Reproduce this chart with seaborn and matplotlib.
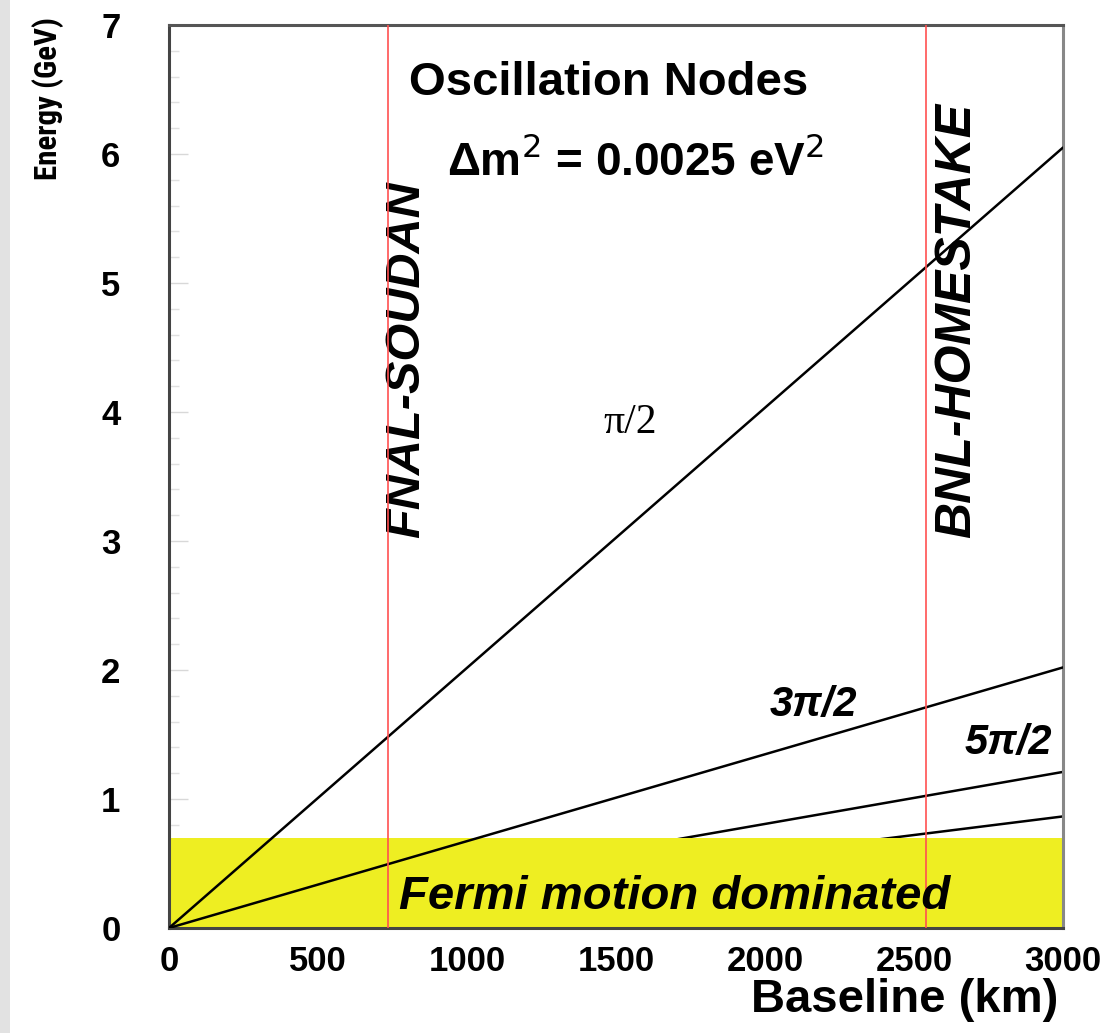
import matplotlib
matplotlib.use("Agg")
import matplotlib.pyplot as plt
import seaborn as sns
import pandas as pd
from matplotlib.ticker import MultipleLocator
from matplotlib.patches import Rectangle
from matplotlib import font_manager

# ---- data ----
baseline_km = [0, 3000]
node_labels = ["π/2", "3π/2", "5π/2", "7π/2"]
node_energy = {            # energy (GeV) at baseline 0 and 3000 km
    "π/2": [0.0, 6.05],
    "3π/2": [0.0, 2.02],
    "5π/2": [0.0, 1.21],
    "7π/2": [0.0, 0.865],
}
experiments = ["FNAL-SOUDAN", "BNL-HOMESTAKE"]
experiment_km = [735, 2540]
fermi_limit_gev = 0.7
x_ticks = [0, 500, 1000, 1500, 2000, 2500, 3000]
y_ticks = [0, 1, 2, 3, 4, 5, 6, 7]

sns.set_theme(style="white")
plt.rcParams["font.family"] = ["Liberation Sans", "DejaVu Sans"]
plt.rcParams["text.color"] = "black"
plt.rcParams["xtick.labelcolor"] = "black"
plt.rcParams["ytick.labelcolor"] = "black"

# pick a condensed bold face for the y label if one is installed
fonts = font_manager.fontManager.ttflist
cond_family, cond_stretch = "Liberation Sans", "normal"
for f in fonts:
    if f.name in ("Roboto Condensed", "Liberation Sans Narrow") and f.weight >= 600:
        cond_family, cond_stretch = f.name, "normal"
        break
else:
    for f in fonts:
        if f.name == "DejaVu Sans" and str(f.stretch) == "condensed" and f.weight >= 600:
            cond_family, cond_stretch = "DejaVu Sans", "condensed"
            break

fig = plt.figure(figsize=(11.08, 10.33), dpi=100)
ax = fig.add_axes([169 / 1108, 1 - 928 / 1033, (1063 - 169) / 1108, (928 - 25) / 1033])

# gray strip on left edge
fig.patches.append(Rectangle((0, 0), 10 / 1108, 1, transform=fig.transFigure,
                             facecolor="#e2e2e2", edgecolor="none", zorder=-1))

rows = []
for lab in node_labels:
    for x, e in zip(baseline_km, node_energy[lab]):
        rows.append({"baseline": x, "energy": e, "node": lab})
df = pd.DataFrame(rows)

# lower nodes drawn beneath the yellow band
for lab, z in zip(node_labels, [4, 4, 1, 1]):
    sub = df[df["node"] == lab]
    sns.lineplot(data=sub, x="baseline", y="energy", ax=ax, color="black",
                 linewidth=1.8, zorder=z, legend=False)

ax.axhspan(0, fermi_limit_gev, color="#eeee22", zorder=2, linewidth=0)

for xk in experiment_km:
    ax.axvline(xk, color="#ff5050", linewidth=1.2, zorder=5)

ax.set_xlim(0, 3000)
ax.set_ylim(0, 7)
ax.set_xticks(x_ticks)
ax.set_yticks(y_ticks)
ax.xaxis.set_minor_locator(MultipleLocator(100))
ax.yaxis.set_minor_locator(MultipleLocator(0.2))
ax.tick_params(which="major", direction="in", length=14, color="#d8d8d8", width=1,
               labelsize=25, pad=12)
ax.tick_params(which="minor", direction="in", length=7, color="#e0e0e0", width=1)
ax.tick_params(axis="x", which="both", bottom=True)
ax.tick_params(axis="y", which="both", left=True)
for lbl in ax.get_xticklabels() + ax.get_yticklabels():
    lbl.set_fontweight("bold")
ax.tick_params(axis="y", pad=35)

for side, col in [("left", "#444444"), ("bottom", "#444444"), ("top", "#555555"), ("right", "#888888")]:
    ax.spines[side].set_color(col)
    ax.spines[side].set_linewidth(2.2)

ax.set_xlabel("")
ax.set_ylabel("")
fig.text(1058 / 1108, 1 - 1012 / 1033, "Baseline (km)", ha="right", va="baseline",
         fontsize=34, fontweight="bold")

ylab = fig.text(48 / 1108, 1 - 17 / 1033, "Energy (GeV)", ha="center", va="top",
                rotation=90, fontsize=20, fontweight="bold",
                family=[cond_family, "Liberation Sans"], fontstretch=cond_stretch)
# scale the label so its length matches the reference (~163 px)
renderer = fig.canvas.get_renderer()
h = ylab.get_window_extent(renderer).height
ylab.set_fontsize(20 * 163 / h)

ax.text(609 / 1108, 1 - 95 / 1033, "Oscillation Nodes", transform=fig.transFigure,
        ha="center", va="baseline", fontsize=34, fontweight="bold")
ax.text(636 / 1108, 1 - 175 / 1033, "Δm$^2$ = 0.0025 eV$^2$", transform=fig.transFigure,
        ha="center", va="baseline", fontsize=33, fontweight="bold")

ax.text(407 / 1108, 1 - 538 / 1033, experiments[0], transform=fig.transFigure,
        ha="center", va="bottom", rotation=90, fontsize=35, fontweight="bold", style="italic")
ax.text(957 / 1108, 1 - 538 / 1033, experiments[1], transform=fig.transFigure,
        ha="center", va="bottom", rotation=90, fontsize=36, fontweight="bold", style="italic")

ax.text(630 / 1108, 1 - 423 / 1033, node_labels[0], transform=fig.transFigure,
        ha="center", va="center", fontsize=30, family=["Liberation Serif"])
ax.text(813 / 1108, 1 - 705 / 1033, node_labels[1], transform=fig.transFigure,
        ha="center", va="center", fontsize=30, style="italic", fontweight="bold")
ax.text(1008 / 1108, 1 - 743 / 1033, node_labels[2], transform=fig.transFigure,
        ha="center", va="center", fontsize=30, style="italic", fontweight="bold")

ax.text(675 / 1108, 1 - 897 / 1033, "Fermi motion dominated", transform=fig.transFigure,
        ha="center", va="center", fontsize=34, fontweight="bold", style="italic", zorder=6)

fig.savefig("out.png", dpi=100)
